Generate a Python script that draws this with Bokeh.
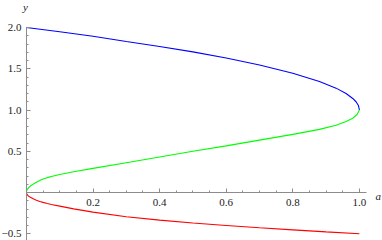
from bokeh.plotting import figure
from bokeh.models import Range1d, LinearAxis, FixedTicker, Label
from bokeh.embed import file_html
from bokeh.resources import INLINE

# ---- data ----
blue_a = [0.0, 0.1, 0.2, 0.3, 0.4, 0.5, 0.6, 0.7, 0.8, 0.88, 0.93, 0.96, 0.98, 0.99, 0.997, 1.0]
blue_y = [2.0, 1.948, 1.893, 1.83, 1.77, 1.705, 1.63, 1.545, 1.445, 1.345, 1.265, 1.2, 1.14, 1.1, 1.055, 1.0]

green_a = [0.0, 0.001, 0.004, 0.008, 0.012, 0.022, 0.03, 0.04, 0.05, 0.0625, 0.075, 0.1, 0.142,
           0.2, 0.3, 0.4, 0.5, 0.6, 0.7, 0.8, 0.88, 0.93, 0.96, 0.98, 0.993, 1.0]
green_y = [0.0, 0.023, 0.045, 0.064, 0.078, 0.105, 0.125, 0.144, 0.163, 0.18, 0.195, 0.218, 0.252,
           0.292, 0.36, 0.43, 0.50, 0.565, 0.635, 0.705, 0.765, 0.815, 0.86, 0.9, 0.945, 1.0]

red_a = [0.0, 0.001, 0.004, 0.008, 0.012, 0.022, 0.03, 0.04, 0.05, 0.0625, 0.075, 0.1, 0.142,
         0.2, 0.3, 0.4, 0.5, 0.6, 0.7, 0.8, 0.9, 1.0]
red_y = [0.0, -0.017, -0.034, -0.048, -0.058, -0.08, -0.093, -0.108, -0.12, -0.133, -0.145, -0.165, -0.198,
         -0.238, -0.293, -0.335, -0.37, -0.40, -0.428, -0.453, -0.477, -0.5]

x_ticks = [0.2, 0.4, 0.6, 0.8, 1.0]
x_tick_labels = {0.2: "0.2", 0.4: "0.4", 0.6: "0.6", 0.8: "0.8", 1.0: "1.0"}
x_minor = [0.05, 0.1, 0.15, 0.25, 0.3, 0.35, 0.45, 0.5, 0.55, 0.65, 0.7, 0.75, 0.85, 0.9, 0.95]
y_ticks = [-0.5, 0.5, 1.0, 1.5, 2.0]
y_tick_labels = {-0.5: "\u22120.5", 0.5: "0.5", 1.0: "1.0", 1.5: "1.5", 2.0: "2.0"}
y_minor = [-0.4, -0.3, -0.2, -0.1, 0.1, 0.2, 0.3, 0.4, 0.6, 0.7, 0.8, 0.9,
           1.1, 1.2, 1.3, 1.4, 1.6, 1.7, 1.8, 1.9]

FONT = "Liberation Serif"

p = figure(width=382, height=240, output_backend="svg", toolbar_location=None,
           x_range=Range1d(-0.0778, 1.0694), y_range=Range1d(-0.5818, 2.3273),
           x_axis_type=None, y_axis_type=None, min_border=0)
p.outline_line_color = None
p.xgrid.visible = False
p.ygrid.visible = False

p.line(blue_a, blue_y, line_color="#0000ff", line_width=1.1)
p.line(green_a, green_y, line_color="#00ff00", line_width=1.1)
p.line(red_a, red_y, line_color="#ff0000", line_width=1.1)

def style(ax):
    ax.axis_line_color = "#8c8c8c"
    ax.major_tick_line_color = "#8c8c8c"
    ax.minor_tick_line_color = "#8c8c8c"
    ax.major_tick_in = 4
    ax.major_tick_out = 0
    ax.minor_tick_in = 2
    ax.minor_tick_out = 0
    ax.major_label_text_font = FONT
    ax.major_label_text_font_size = "11px"
    ax.major_label_text_color = "#222222"

xa = LinearAxis(ticker=FixedTicker(ticks=x_ticks, minor_ticks=x_minor), fixed_location=0,
                bounds=(0, 1.02), major_label_overrides=x_tick_labels)
style(xa)
xa.major_label_standoff = 6
p.add_layout(xa, "below")

ya = LinearAxis(ticker=FixedTicker(ticks=y_ticks, minor_ticks=y_minor), fixed_location=0,
                bounds=(-0.6, 2.0), major_label_overrides=y_tick_labels)
style(ya)
ya.major_label_standoff = 5
p.add_layout(ya, "left")

p.add_layout(Label(x=1.0565, y=-0.042, text="a", text_font=FONT, text_font_style="italic",
                   text_font_size="11px", text_align="center", text_baseline="alphabetic",
                   text_color="#222222"))
p.add_layout(Label(x=-0.003, y=2.246, text="y", text_font=FONT, text_font_style="italic",
                   text_font_size="11px", text_align="center", text_baseline="middle",
                   text_color="#222222"))

open("out.html", "w").write(file_html(p, INLINE))
